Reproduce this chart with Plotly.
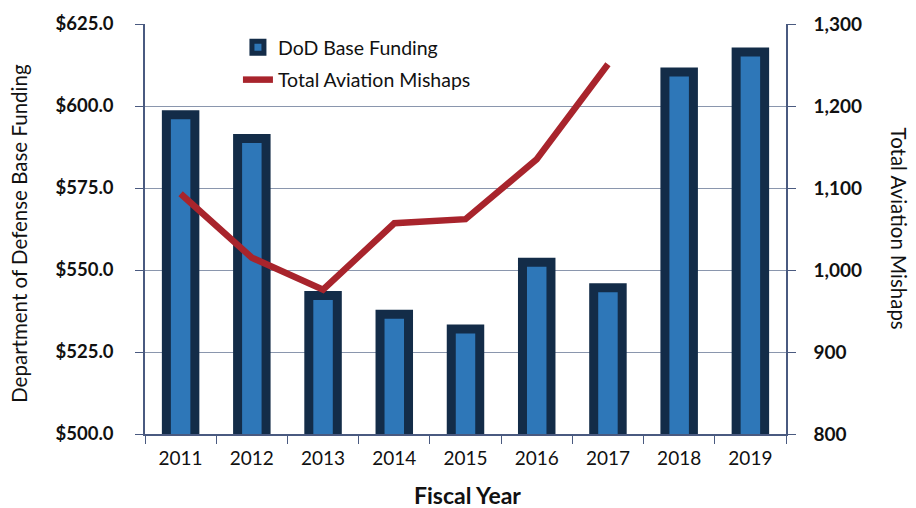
import plotly.graph_objects as go

years = ["2011", "2012", "2013", "2014", "2015", "2016", "2017", "2018", "2019"]
funding = [597.3, 590.1, 542.2, 536.5, 532.0, 552.4, 544.6, 610.4, 616.5]
mishap_years = ["2011", "2012", "2013", "2014", "2015", "2016", "2017"]
mishaps = [1093, 1015, 976, 1057, 1062, 1135, 1251]

left_ticks = [500, 525, 550, 575, 600, 625]
left_labels = ["$500.0", "$525.0", "$550.0", "$575.0", "$600.0", "$625.0"]
right_ticks = [800, 900, 1000, 1100, 1200, 1300]
right_labels = ["800", "900", "1,000", "1,100", "1,200", "1,300"]

FONT = "Lato"
AXC = "#4a5a80"
GRID = "#8a96ad"

fig = go.Figure()
fig.add_trace(go.Bar(
    x=years, y=funding, name="DoD Base Funding", width=0.4,
    marker=dict(color="#2e77b8", line=dict(color="#132c48", width=9)),
    legendgroup="a", yaxis="y",
))
fig.add_trace(go.Scatter(
    x=mishap_years, y=mishaps, name="Total Aviation Mishaps", mode="lines",
    line=dict(color="#a8242c", width=6.5), legendgroup="b", yaxis="y2",
))

fig.update_layout(
    width=916, height=508,
    margin=dict(l=145, r=130, t=20, b=74),
    paper_bgcolor="white", plot_bgcolor="white",
    font=dict(family=FONT, color="#111111"),
    showlegend=True,
    legend=dict(x=0.145, y=0.99, xanchor="left", yanchor="top",
                bgcolor="rgba(0,0,0,0)", font=dict(size=19.5, family=FONT),
                traceorder="grouped", tracegroupgap=4),
    xaxis=dict(type="category", showgrid=False, showline=True, linecolor=AXC, linewidth=1.5,
               ticks="outside", tickson="boundaries", ticklen=8, tickcolor=AXC,
               tickfont=dict(size=19, family=FONT), ticklabelstandoff=6),
    yaxis=dict(range=[500, 625], tickvals=left_ticks, ticktext=left_labels,
               showgrid=True, gridcolor=GRID, gridwidth=1,
               showline=True, linecolor=AXC, linewidth=1.5,
               ticks="outside", ticklen=8, tickcolor=AXC,
               tickfont=dict(size=18.5, family=FONT, weight="bold"), ticklabelstandoff=18,
               zeroline=False),
    yaxis2=dict(range=[800, 1300], tickvals=right_ticks, ticktext=right_labels,
                overlaying="y", side="right", showgrid=False,
                showline=True, linecolor=AXC, linewidth=1.5,
                ticks="outside", ticklen=8, tickcolor=AXC,
                tickfont=dict(size=19, family=FONT, weight="bold"), ticklabelstandoff=14,
                zeroline=False),
    annotations=[
        dict(text="Department of Defense Base Funding", xref="paper", yref="paper",
             x=-0.197, y=0.49, textangle=-90, showarrow=False,
             font=dict(size=20.5, family=FONT), xanchor="center", yanchor="middle"),
        dict(text="Total Aviation Mishaps", xref="paper", yref="paper",
             x=1.177, y=0.5, textangle=90, showarrow=False,
             font=dict(size=20.5, family=FONT), xanchor="center", yanchor="middle"),
        dict(text="<b>Fiscal Year</b>", xref="paper", yref="paper",
             x=0.503, y=-0.148, showarrow=False,
             font=dict(size=23, family=FONT), xanchor="center", yanchor="middle"),
    ],
)

fig.write_html("out.html")
